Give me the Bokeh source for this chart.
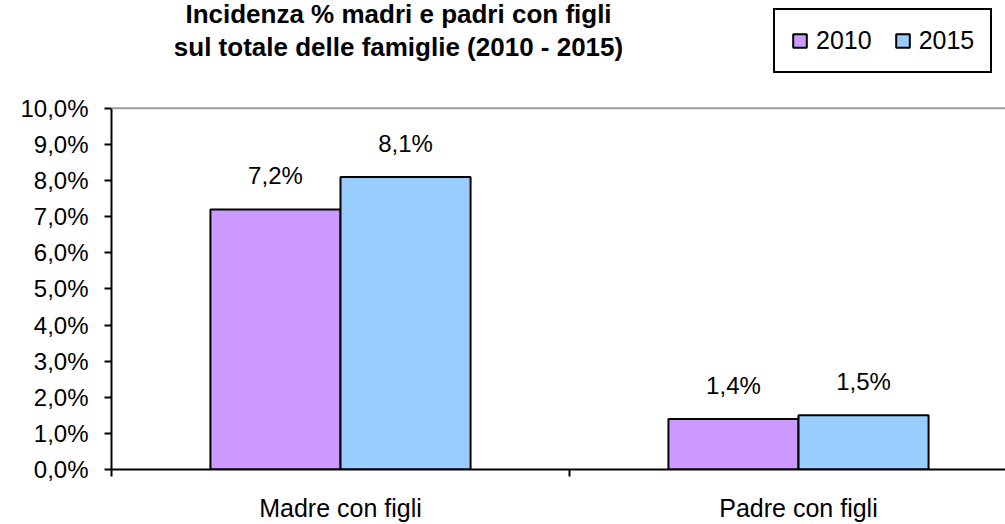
from bokeh.plotting import figure
from bokeh.models import Range1d, FixedTicker, Legend, LegendItem, Label, Span, ColumnDataSource
from bokeh.core.properties import value
from bokeh.embed import file_html
from bokeh.resources import INLINE

# ---- data ----
categories = ["Madre con figli", "Padre con figli"]
series_names = ["2010", "2015"]
values_2010 = [7.2, 1.4]
values_2015 = [8.1, 1.5]
series_colors = ["#CC99FF", "#99CCFF"]
y_ticks = [0, 1, 2, 3, 4, 5, 6, 7, 8, 9, 10]
y_tick_labels = ["0,0%", "1,0%", "2,0%", "3,0%", "4,0%", "5,0%", "6,0%", "7,0%", "8,0%", "9,0%", "10,0%"]
title_lines = ["Incidenza % madri e padri con figli", "sul totale delle famiglie (2010 - 2015)"]

FONT = "Liberation Sans"
bar_w = 0.284

W, H = 1005, 524
LEFT, BOTTOM = 111, 54
frame_w = W - LEFT
frame_h = H - BOTTOM
px_per_y = 362 / 10.0
px_per_cat = 458.0

def fmt(v):
    return f"{v:.1f}".replace(".", ",") + "%"

p = figure(width=W, height=H, output_backend="svg", toolbar_location=None,
           x_range=Range1d(0, frame_w / px_per_cat), y_range=Range1d(0, frame_h / px_per_y),
           min_border_left=LEFT, min_border_right=0, min_border_top=0, min_border_bottom=BOTTOM)
p.outline_line_color = None
p.xgrid.visible = False
p.ygrid.visible = False
p.background_fill_color = "white"
p.border_fill_color = "white"

renderers = []
for k, (name, vals, col) in enumerate(zip(series_names, [values_2010, values_2015], series_colors)):
    offs = (k - 0.5) * bar_w
    src = ColumnDataSource(dict(
        x=[i + 0.5 + offs for i in range(len(categories))],
        top=vals,
        lab=[fmt(v) for v in vals],
    ))
    r = p.vbar(x="x", top="top", bottom=0, width=bar_w, source=src,
               fill_color=col, line_color="black", line_width=2)
    renderers.append(r)
    p.text(x="x", y="top", text="lab", source=src, text_align="center", text_baseline="bottom",
           y_offset=-20, text_font=value(FONT), text_font_size="24px", text_color="black")

# top gray line of the plot area
p.add_layout(Span(location=y_ticks[-1], dimension="width", line_color="#9a9a9a", line_width=2))

# y axis
yax = p.yaxis[0]
yax.bounds = (y_ticks[0], y_ticks[-1])
yax.ticker = FixedTicker(ticks=y_ticks, minor_ticks=[])
yax.major_label_overrides = dict(zip(y_ticks, y_tick_labels))
yax.major_tick_out = 7
yax.major_tick_in = 0
yax.minor_tick_out = 0
yax.minor_tick_in = 0
yax.axis_line_width = 2
yax.major_tick_line_width = 2
yax.axis_line_color = "black"
yax.major_tick_line_color = "black"
yax.major_label_standoff = 16
yax.major_label_text_font = FONT
yax.major_label_text_font_size = "24px"
yax.major_label_text_color = "black"

# x axis
xax = p.xaxis[0]
xax.ticker = FixedTicker(ticks=[i + 0.5 for i in range(len(categories))],
                         minor_ticks=list(range(len(categories) + 1)))
xax.major_label_overrides = {i + 0.5: c for i, c in enumerate(categories)}
xax.major_tick_out = 0
xax.major_tick_in = 0
xax.minor_tick_out = 7
xax.minor_tick_in = 0
xax.minor_tick_line_width = 2
xax.minor_tick_line_color = "black"
xax.axis_line_width = 2
xax.axis_line_color = "black"
xax.major_label_standoff = 17
xax.major_label_text_font = FONT
xax.major_label_text_font_size = "25px"
xax.major_label_text_color = "black"

# title (two lines), positioned relative to frame bottom-left
for txt, yy in zip(title_lines, [frame_h - 14, frame_h - 47]):
    p.add_layout(Label(x=287, y=yy, x_units="screen", y_units="screen", text=txt,
                       text_align="center", text_baseline="alphabetic",
                       text_font=FONT, text_font_size="26px", text_font_style="bold",
                       text_color="black"))

legend = Legend(items=[LegendItem(label=n, renderers=[r]) for n, r in zip(series_names, renderers)],
                location=(662, frame_h - 74), orientation="horizontal",
                glyph_width=17, glyph_height=17, label_standoff=8, spacing=22, padding=16,
                label_text_font=FONT, label_text_font_size="25px", label_text_color="black",
                border_line_color="black", border_line_width=2, border_line_alpha=1.0,
                background_fill_color="white", background_fill_alpha=1.0, margin=0)
p.add_layout(legend)

open("out.html", "w").write(file_html(p, INLINE))
